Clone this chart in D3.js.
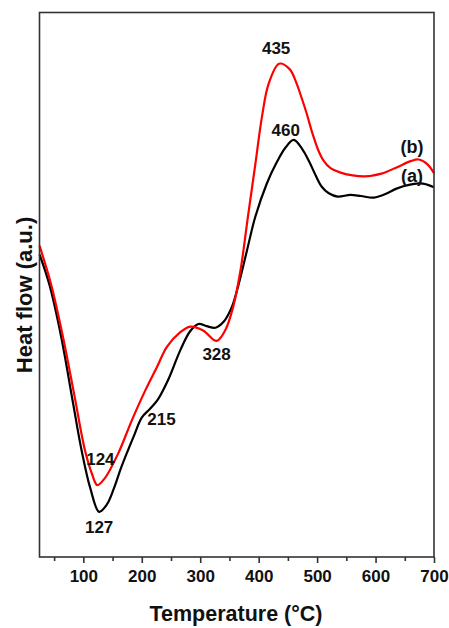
<!DOCTYPE html>
<html>
<head>
<meta charset="utf-8">
<script src="https://cdn.jsdelivr.net/npm/d3@7"></script>
<style>
  html, body { margin: 0; padding: 0; background: #fff; }
  svg { display: block; }
  text { font-family: "Liberation Sans", Arial, Helvetica, sans-serif; font-weight: bold; fill: #111; }
</style>
</head>
<body>
<svg id="chart" width="449" height="628"></svg>
<script>
// DSC curves: heat flow (arbitrary units) versus temperature (°C)
const tempA = [25, 42, 62, 82, 97, 112, 127, 140, 152, 165, 186, 200, 215, 228, 245, 266, 283, 297, 311, 326, 340, 354, 366, 380, 394, 414, 430, 446, 460, 474, 487, 497, 508, 520, 535, 557, 575, 597, 620, 637, 674, 688, 700];
const heatA = [55.6, 50.0, 40.5, 28.5, 19.6, 12.6, 8.3, 9.6, 12.5, 16.5, 22.1, 25.6, 27.3, 29.0, 32.5, 38.0, 41.5, 42.8, 42.4, 42.1, 43.2, 45.9, 50.2, 56.3, 62.4, 68.6, 72.3, 75.2, 76.6, 75.0, 72.5, 70.2, 68.0, 66.8, 66.2, 66.5, 66.3, 66.0, 66.8, 67.7, 68.6, 68.4, 67.9];

const tempB = [25, 45, 65, 85, 103, 115, 124, 137, 160, 183, 206, 226, 243, 265, 283, 305, 328, 343, 357, 369, 382, 394, 406, 417, 435, 453, 463, 472, 482, 492, 502, 511, 523, 540, 580, 610, 637, 660, 674, 688, 700];
const heatB = [57.2, 50.0, 40.5, 29.5, 19.5, 15.2, 13.2, 14.5, 19.1, 25.1, 30.6, 34.9, 38.6, 41.2, 42.3, 41.6, 39.7, 41.7, 46.2, 52.7, 62.8, 71.9, 81.1, 86.9, 90.6, 89.6, 87.5, 84.8, 81.5, 77.8, 74.7, 72.8, 71.4, 70.6, 69.9, 70.4, 71.6, 72.7, 73.0, 72.2, 70.5];

// Characteristic temperatures marked on the curves
const peakTemps  = [435, 460, 328, 215, 124, 127];
const peakSeries = ["b", "a", "b", "a", "b", "a"];

const seriesNames = ["(a)", "(b)"];
const xTicks = [100, 200, 300, 400, 500, 600, 700];
const xMinorTicks = [50, 150, 250, 350, 450, 550, 650];
const xDomain = [25, 700];
const yDomain = [0, 100];

// ---- layout ----
const svg = d3.select("#chart");
const plot = { left: 39.5, top: 12.5, right: 434, bottom: 557 };

const x = d3.scaleLinear().domain(xDomain).range([plot.left, plot.right]);
const y = d3.scaleLinear().domain(yDomain).range([plot.bottom, plot.top]);

const seriesA = tempA.map((t, i) => ({ t, v: heatA[i] }));
const seriesB = tempB.map((t, i) => ({ t, v: heatB[i] }));
const lookup = { a: seriesA, b: seriesB };

const line = d3.line()
  .x(d => x(d.t))
  .y(d => y(d.v))
  .curve(d3.curveCatmullRom.alpha(0.5));

const g = svg.append("g");

// curves
g.append("path").datum(seriesA)
  .attr("d", line).attr("fill", "none")
  .attr("stroke", "#000").attr("stroke-width", 2.2).attr("stroke-linejoin", "round");
g.append("path").datum(seriesB)
  .attr("d", line).attr("fill", "none")
  .attr("stroke", "#ff0000").attr("stroke-width", 2.2).attr("stroke-linejoin", "round");

// frame
svg.append("rect")
  .attr("x", plot.left).attr("y", plot.top)
  .attr("width", plot.right - plot.left).attr("height", plot.bottom - plot.top)
  .attr("fill", "none").attr("stroke", "#333").attr("stroke-width", 1.6);

// bottom axis: major ticks with labels, minor ticks between
const xAxis = d3.axisBottom(x).tickValues(xTicks).tickSize(6).tickPadding(7).tickFormat(d3.format("d"));
const axG = svg.append("g").attr("transform", `translate(0,${plot.bottom})`).call(xAxis);
axG.select(".domain").remove();
axG.selectAll(".tick line").attr("stroke", "#333").attr("stroke-width", 1.6);
axG.selectAll(".tick text")
  .style("font-family", '"Liberation Sans", Arial, sans-serif')
  .style("font-weight", "bold").style("font-size", "17px").attr("fill", "#111");

const xMinor = d3.axisBottom(x).tickValues(xMinorTicks).tickSize(4).tickFormat("");
const mnG = svg.append("g").attr("transform", `translate(0,${plot.bottom})`).call(xMinor);
mnG.select(".domain").remove();
mnG.selectAll(".tick line").attr("stroke", "#333").attr("stroke-width", 1.6);

// axis titles
svg.append("text")
  .attr("x", 236).attr("y", 621)
  .attr("text-anchor", "middle").style("font-size", "21.5px")
  .text("Temperature (°C)");
svg.append("text")
  .attr("transform", "translate(32,295) rotate(-90)")
  .attr("text-anchor", "middle").style("font-size", "22px")
  .text("Heat flow (a.u.)");

// peak annotations, offset from the point they describe
const labelOffset = [[-3, -10], [-8, -4], [0, 19], [11, 17], [3, -20], [0, 21]];
peakTemps.forEach((t, i) => {
  const s = lookup[peakSeries[i]];
  const pt = s.find(d => d.t === t);
  svg.append("text")
    .attr("x", x(t) + labelOffset[i][0])
    .attr("y", y(pt.v) + labelOffset[i][1])
    .attr("text-anchor", "middle").style("font-size", "17px")
    .text(String(t));
});

// series names at the right end
const nameY = [182, 153];
seriesNames.forEach((n, i) => {
  svg.append("text")
    .attr("x", 412).attr("y", nameY[i])
    .attr("text-anchor", "middle").style("font-size", "18px")
    .text(n);
});
</script>
</body>
</html>
